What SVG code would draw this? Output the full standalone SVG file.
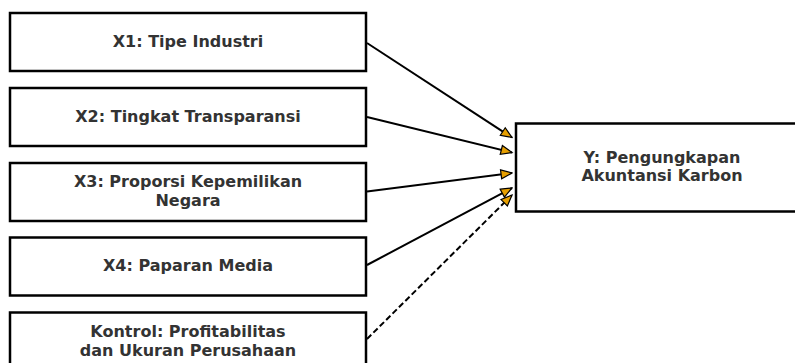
<svg xmlns="http://www.w3.org/2000/svg" width="795" height="363" viewBox="0 0 795 363">
<defs>
<style>
.box{fill:#fff;stroke:#000;stroke-width:2.5}
.t{font-family:"DejaVu Sans",sans-serif;font-weight:bold;font-size:16px;fill:#333;text-anchor:middle}
.c{stroke:#000;stroke-width:2;fill:none}
.d{stroke-dasharray:6,3}
</style>
<marker id="ah" markerUnits="userSpaceOnUse" markerWidth="14" markerHeight="12" refX="12.5" refY="6" orient="auto" viewBox="0 0 14 12">
<path d="M1.5,1.5 L12.5,6 L1.5,10.5 Z" fill="#E69F00" stroke="#000" stroke-width="1.2"/>
</marker>
</defs>
<g id="connectors">
<line class="c" x1="367" y1="43" x2="512" y2="137.5" marker-end="url(#ah)"/>
<line class="c" x1="367" y1="117" x2="512" y2="152.5" marker-end="url(#ah)"/>
<line class="c" x1="367" y1="191.5" x2="512" y2="173" marker-end="url(#ah)"/>
<line class="c" x1="367" y1="265" x2="512" y2="188" marker-end="url(#ah)"/>
<line class="c d" x1="367" y1="339" x2="512" y2="195" marker-end="url(#ah)"/>
</g>
<g id="x1">
<rect class="box" x="10" y="13" width="356" height="58"/>
<text class="t" x="188" y="46.7">X1: Tipe Industri</text>
</g>
<g id="x2">
<rect class="box" x="10" y="88" width="356" height="58"/>
<text class="t" x="188" y="121.7">X2: Tingkat Transparansi</text>
</g>
<g id="x3">
<rect class="box" x="10" y="163" width="356" height="58"/>
<text class="t" x="188" y="187.3">X3: Proporsi Kepemilikan</text>
<text class="t" x="188" y="206">Negara</text>
</g>
<g id="x4">
<rect class="box" x="10" y="237.5" width="356" height="58"/>
<text class="t" x="188" y="271.2">X4: Paparan Media</text>
</g>
<g id="kontrol">
<rect class="box" x="10" y="312.5" width="356" height="72"/>
<text class="t" x="188" y="337.3">Kontrol: Profitabilitas</text>
<text class="t" x="188" y="356">dan Ukuran Perusahaan</text>
</g>
<g id="y">
<rect class="box" x="516" y="123.5" width="294" height="88"/>
<text class="t" x="662" y="162.5">Y: Pengungkapan</text>
<text class="t" x="662" y="181">Akuntansi Karbon</text>
</g>
</svg>
